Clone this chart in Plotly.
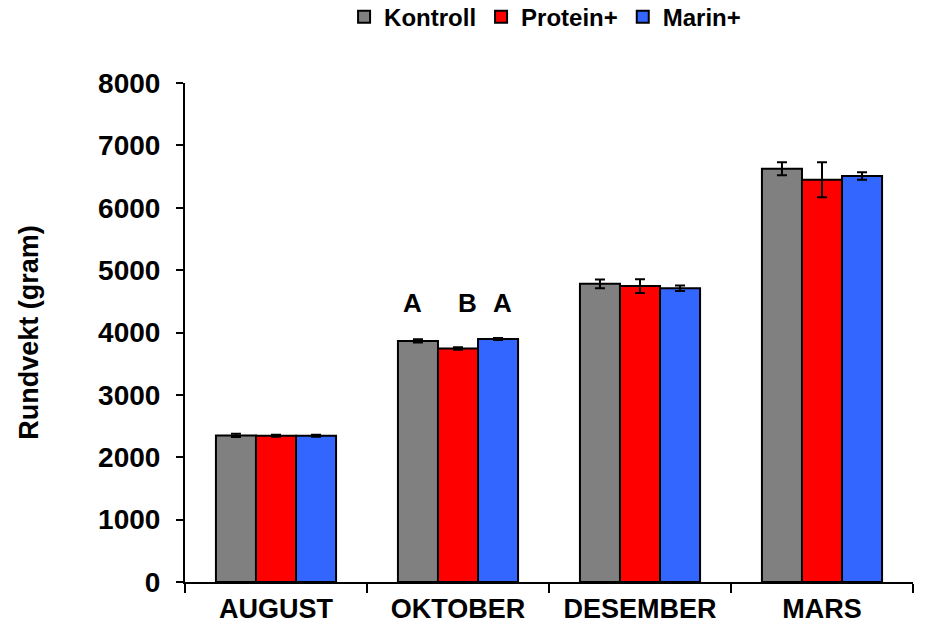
import plotly.graph_objects as go

categories = ["AUGUST", "OKTOBER", "DESEMBER", "MARS"]
series_names = ["Kontroll", "Protein+", "Marin+"]
kontroll = [2350, 3865, 4780, 6625]
protein = [2345, 3745, 4745, 6450]
marin = [2345, 3895, 4710, 6510]
kontroll_err = [25, 25, 70, 105]
protein_err = [15, 20, 110, 280]
marin_err = [15, 15, 45, 60]
colors = ["#808080", "#FF0000", "#3366FF"]
sig_letters = ["A", "B", "A"]
sig_y = 4470
yticks = [0, 1000, 2000, 3000, 4000, 5000, 6000, 7000, 8000]

FONT = "Arial, Liberation Sans, sans-serif"

fig = go.Figure()
for name, vals, errs, col in zip(series_names, [kontroll, protein, marin],
                                 [kontroll_err, protein_err, marin_err], colors):
    fig.add_trace(go.Bar(
        x=categories, y=vals, name=name,
        marker=dict(color=col, line=dict(color="black", width=2)),
        error_y=dict(type="data", array=errs, visible=True, color="black",
                     thickness=2, width=5),
    ))

shifts = [-46, 9, 44]
for letter, dx in zip(sig_letters, shifts):
    fig.add_annotation(x="OKTOBER", y=sig_y, text=letter, showarrow=False,
                       xshift=dx, font=dict(family=FONT, size=26, color="black", weight="bold"))

fig.update_layout(
    width=927, height=635,
    margin=dict(l=185, r=14, t=83, b=53),
    paper_bgcolor="white", plot_bgcolor="white",
    barmode="group", bargap=0.34, bargroupgap=0,
    font=dict(family=FONT, color="black", weight="bold"),
    legend=dict(orientation="h", x=0.588, xanchor="center", xref="container",
                y=0.973, yanchor="middle", yref="container",
                font=dict(family=FONT, size=24, color="black", weight="bold"),
                itemwidth=30, tracegroupgap=0),
    showlegend=True,
)
fig.update_xaxes(showline=True, linecolor="black", linewidth=2,
                 ticks="outside", tickson="boundaries", ticklen=9, tickwidth=2, tickcolor="black",
                 ticklabelstandoff=2,
                 tickfont=dict(family=FONT, size=27, color="black", weight="bold"),
                 showgrid=False, automargin=False)
fig.update_yaxes(range=[0, 8000], tickvals=yticks, showline=True, linecolor="black", linewidth=2,
                 ticks="outside", ticklen=7, tickwidth=2, tickcolor="black",
                 ticklabelstandoff=10,
                 tickfont=dict(family=FONT, size=28, color="black", weight="bold"),
                 showgrid=False, zeroline=False, automargin=False,
                 title=dict(text="Rundvekt (gram)", standoff=52,
                            font=dict(family=FONT, size=27, color="black", weight="bold")))

fig.write_html("out.html", config={"displayModeBar": False},
               post_script="document.body.style.margin='0px';")
